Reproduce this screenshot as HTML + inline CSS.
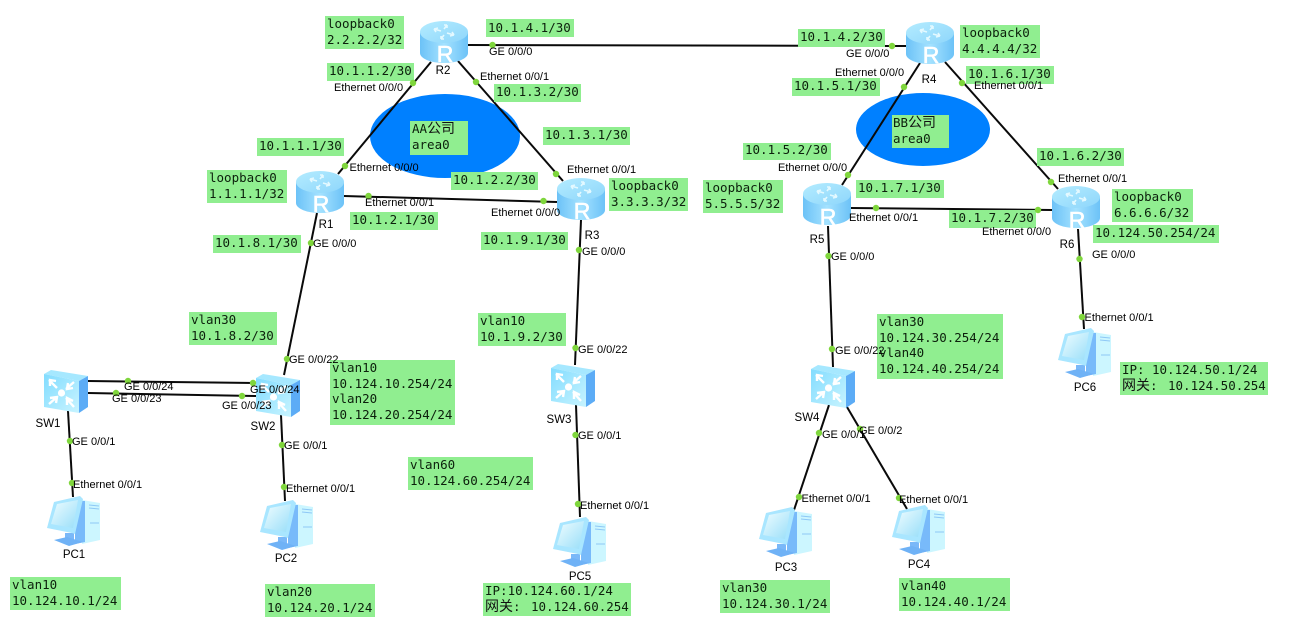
<!DOCTYPE html>
<html><head><meta charset="utf-8"><style>
html,body{margin:0;padding:0;background:#fff}
svg{display:block}
.b{fill:#90ee90}
.m{font:12.5px "DejaVu Sans Mono","Liberation Mono","Noto Sans CJK SC",monospace;fill:#0c200c}
.c{font:14px "Liberation Sans","Noto Sans CJK SC",sans-serif;fill:#111}
.p{font:11px "Liberation Sans",sans-serif;fill:#000}
.n{font:11.5px "Liberation Sans",sans-serif;fill:#000;text-anchor:middle}
.r{font:23px "Liberation Sans",sans-serif;fill:#fff;stroke:#fff;stroke-width:.6;text-anchor:middle}
.l line{stroke:#0a0a0a;stroke-width:2}
.d circle{fill:#7fd63c;r:3.2px}
</style></head><body>
<svg width="1292" height="644" viewBox="0 0 1292 644" xmlns="http://www.w3.org/2000/svg">
<defs>
<linearGradient id="rb" x1="0" x2="1" y1="0" y2="0"><stop offset="0" stop-color="#6cc2f7"/><stop offset=".5" stop-color="#a4e2ff"/><stop offset="1" stop-color="#6cc2f7"/></linearGradient>
<linearGradient id="rt" x1="0" x2="1" y1="0" y2="1"><stop offset="0" stop-color="#b4ecff"/><stop offset="1" stop-color="#8ed6fb"/></linearGradient>
<linearGradient id="sf" x1="0" x2="1" y1="0" y2="1"><stop offset="0" stop-color="#82dcff"/><stop offset="1" stop-color="#c8f4ff"/></linearGradient>
<linearGradient id="sc" x1="0" x2="1" y1="0" y2="1"><stop offset="0" stop-color="#f0fdff"/><stop offset="1" stop-color="#98def9"/></linearGradient>
<symbol id="router" width="48" height="42" viewBox="0 0 48 42" overflow="visible">
<path d="M0,11V32A24,10 0 0 0 48,32V11Z" fill="url(#rb)"/>
<ellipse cx="24" cy="11" rx="24" ry="11" fill="url(#rt)"/>
<g stroke="#e4f9ff" stroke-width="1.6" fill="none">
<path d="M14,8l7,2M14,8l2,3M14,8l4-1"/><path d="M34,14l-7-2M34,14l-2-3M34,14l-4,1"/>
<path d="M27,4l-3,4M27,4l-3,0M27,4l0,3"/><path d="M21,18l3-4M21,18l3,0M21,18l0-3"/>
</g>
</symbol>
<symbol id="switch" width="44" height="43" viewBox="0 0 44 43" overflow="visible">
<polygon points="0,4 7,0 44,6 35,11" fill="#a6e8ff"/>
<polygon points="35,11 44,6 44,37 35,43" fill="#5cacf6"/>
<polygon points="0,4 35,11 35,43 0,37" fill="url(#sf)"/>
<circle cx="17.5" cy="23" r="3.6" fill="#fff"/>
<g stroke="#fff" stroke-width="2.4" fill="none">
<path d="M5,10l8,8M6,16l0-6l6,1"/><path d="M30,12l-8,7M29,18l-6,1l1-6"/>
<path d="M5,34l8-7M6,28l7-1l-1,6"/><path d="M30,37l-8-9M29,31l-6-3l0,7"/>
</g>
</symbol>
<symbol id="pc" width="53" height="50" viewBox="0 0 53 50" overflow="visible">
<polygon points="35,4 53,7 53,44 35,48" fill="#ccf6ff"/>
<polygon points="28,5 38,5 38,46 28,48" fill="#78bafa"/>
<g stroke="#8ec8f6" stroke-width="1"><line x1="42" y1="9" x2="52" y2="10"/><line x1="42" y1="12" x2="52" y2="13"/><line x1="43" y1="27" x2="52" y2="27"/></g>
<polygon points="18,37 27,37 27,44 18,44" fill="#7ab8f8"/>
<polygon points="7,44 20,41 36,46 22,50" fill="#6fb2f6"/>
<polygon points="33,0 36,3 28,38 25,37 0,32 7,6" fill="#a9e6ff"/>
<polygon points="31,4 26,32 4,28 10,8" fill="url(#sc)"/>
</symbol>
</defs>

<ellipse cx="445" cy="136" rx="75" ry="42" fill="#0080ff"/>
<ellipse cx="923" cy="129.500" rx="67" ry="36.500" fill="#0080ff"/>

<g class="l">
<line x1="468" y1="45" x2="906" y2="46"/>
<line x1="431" y1="62" x2="338" y2="174"/>
<line x1="458" y1="61" x2="563" y2="181"/>
<line x1="344" y1="196" x2="557" y2="202"/>
<line x1="317" y1="213" x2="284" y2="375"/>
<line x1="581" y1="220" x2="575" y2="365"/>
<line x1="88" y1="381" x2="256" y2="383"/>
<line x1="88" y1="393" x2="256" y2="396"/>
<line x1="68" y1="411" x2="73" y2="497"/>
<line x1="281" y1="415" x2="285" y2="501"/>
<line x1="576" y1="405" x2="580" y2="517"/>
<line x1="920" y1="63" x2="842" y2="185"/>
<line x1="945" y1="62" x2="1058" y2="189"/>
<line x1="851" y1="208" x2="1052" y2="210"/>
<line x1="828" y1="226" x2="833" y2="367"/>
<line x1="1078" y1="229" x2="1084" y2="329"/>
<line x1="829" y1="405" x2="793" y2="513"/>
<line x1="847" y1="407" x2="907" y2="509"/>
</g>

<use href="#router" x="420" y="21"/><text class="r" x="445" y="62">R</text>
<use href="#router" x="296" y="171"/><text class="r" x="321" y="212">R</text>
<use href="#router" x="557" y="178"/><text class="r" x="582" y="219">R</text>
<use href="#router" x="906" y="22"/><text class="r" x="931" y="63">R</text>
<use href="#router" x="803" y="183"/><text class="r" x="828" y="225">R</text>
<use href="#router" x="1052" y="186"/><text class="r" x="1077" y="228">R</text>
<use href="#switch" x="44" y="370"/>
<use href="#switch" x="256" y="374"/>
<use href="#switch" x="551" y="364"/>
<use href="#switch" x="811" y="365"/>
<use href="#pc" x="47" y="496"/>
<use href="#pc" x="260" y="500"/>
<use href="#pc" x="553" y="517"/>
<use href="#pc" x="759" y="507"/>
<use href="#pc" x="892" y="505"/>
<use href="#pc" x="1058" y="328"/>

<g>
<rect class="b" x="325" y="16" width="79" height="33"/><text class="m" x="327" y="28">loopback0</text><text class="m" x="327" y="44">2.2.2.2/32</text>
<rect class="b" x="486" y="19" width="88" height="18"/><text class="m" x="488" y="32">10.1.4.1/30</text>
<rect class="b" x="327" y="63" width="87" height="18"/><text class="m" x="329" y="75">10.1.1.2/30</text>
<rect class="b" x="494" y="84" width="87" height="18"/><text class="m" x="496" y="96">10.1.3.2/30</text>
<rect class="b" x="410" y="121" width="58" height="34"/><text class="m" x="412" y="133">AA<tspan class="c">公司</tspan></text><text class="m" x="412" y="149">area0</text>
<rect class="b" x="543" y="127" width="87" height="18"/><text class="m" x="545" y="139">10.1.3.1/30</text>
<rect class="b" x="257" y="138" width="87" height="18"/><text class="m" x="259" y="150">10.1.1.1/30</text>
<rect class="b" x="207" y="170" width="80" height="33"/><text class="m" x="209" y="182">loopback0</text><text class="m" x="209" y="198">1.1.1.1/32</text>
<rect class="b" x="451" y="172" width="87" height="18"/><text class="m" x="453" y="184">10.1.2.2/30</text>
<rect class="b" x="350" y="212" width="88" height="18"/><text class="m" x="352" y="224">10.1.2.1/30</text>
<rect class="b" x="213" y="235" width="88" height="18"/><text class="m" x="215" y="247">10.1.8.1/30</text>
<rect class="b" x="481" y="232" width="87" height="18"/><text class="m" x="483" y="244">10.1.9.1/30</text>
<rect class="b" x="609" y="178" width="79" height="33"/><text class="m" x="611" y="190">loopback0</text><text class="m" x="611" y="206">3.3.3.3/32</text>
<rect class="b" x="798" y="29" width="87" height="18"/><text class="m" x="800" y="41">10.1.4.2/30</text>
<rect class="b" x="960" y="25" width="80" height="33"/><text class="m" x="962" y="37">loopback0</text><text class="m" x="962" y="53">4.4.4.4/32</text>
<rect class="b" x="966" y="66" width="88" height="18"/><text class="m" x="968" y="78">10.1.6.1/30</text>
<rect class="b" x="792" y="78" width="88" height="18"/><text class="m" x="794" y="90">10.1.5.1/30</text>
<rect class="b" x="892" y="115" width="57" height="33"/><text class="m" x="893" y="127">BB<tspan class="c">公司</tspan></text><text class="m" x="893" y="143">area0</text>
<rect class="b" x="743" y="143" width="88" height="17"/><text class="m" x="745" y="154">10.1.5.2/30</text>
<rect class="b" x="1037" y="148" width="87" height="18"/><text class="m" x="1039" y="160">10.1.6.2/30</text>
<rect class="b" x="703" y="180" width="80" height="33"/><text class="m" x="705" y="192">loopback0</text><text class="m" x="705" y="208">5.5.5.5/32</text>
<rect class="b" x="856" y="180" width="88" height="18"/><text class="m" x="858" y="192">10.1.7.1/30</text>
<rect class="b" x="1112" y="189" width="81" height="33"/><text class="m" x="1114" y="201">loopback0</text><text class="m" x="1114" y="217">6.6.6.6/32</text>
<rect class="b" x="949" y="210" width="87" height="18"/><text class="m" x="951" y="222">10.1.7.2/30</text>
<rect class="b" x="1093" y="225" width="126" height="18"/><text class="m" x="1095" y="237">10.124.50.254/24</text>
<rect class="b" x="189" y="312" width="88" height="33"/><text class="m" x="191" y="324">vlan30</text><text class="m" x="191" y="340">10.1.8.2/30</text>
<rect class="b" x="478" y="313" width="88" height="33"/><text class="m" x="480" y="325">vlan10</text><text class="m" x="480" y="341">10.1.9.2/30</text>
<rect class="b" x="330" y="360" width="125" height="65"/><text class="m" x="332" y="372">vlan10</text><text class="m" x="332" y="388">10.124.10.254/24</text><text class="m" x="332" y="403">vlan20</text><text class="m" x="332" y="419">10.124.20.254/24</text>
<rect class="b" x="408" y="457" width="125" height="33"/><text class="m" x="410" y="469">vlan60</text><text class="m" x="410" y="485">10.124.60.254/24</text>
<rect class="b" x="10" y="577" width="111" height="33"/><text class="m" x="12" y="589">vlan10</text><text class="m" x="12" y="605">10.124.10.1/24</text>
<rect class="b" x="265" y="584" width="110" height="33"/><text class="m" x="267" y="596">vlan20</text><text class="m" x="267" y="612">10.124.20.1/24</text>
<rect class="b" x="483" y="583" width="148" height="33"/><text class="m" x="485" y="595">IP:10.124.60.1/24</text><text class="c" x="485" y="611">网关</text><text class="m" x="513" y="611">:</text><text class="m" x="531" y="611">10.124.60.254</text>
<rect class="b" x="877" y="314" width="126" height="65"/><text class="m" x="879" y="326">vlan30</text><text class="m" x="879" y="342">10.124.30.254/24</text><text class="m" x="879" y="357">vlan40</text><text class="m" x="879" y="373">10.124.40.254/24</text>
<rect class="b" x="1120" y="362" width="148" height="33"/><text class="m" x="1122" y="374">IP:</text><text class="m" x="1152" y="374">10.124.50.1/24</text><text class="c" x="1122" y="390">网关</text><text class="m" x="1150" y="390">:</text><text class="m" x="1168" y="390">10.124.50.254</text>
<rect class="b" x="720" y="580" width="110" height="33"/><text class="m" x="722" y="592">vlan30</text><text class="m" x="722" y="608">10.124.30.1/24</text>
<rect class="b" x="899" y="578" width="111" height="33"/><text class="m" x="901" y="590">vlan40</text><text class="m" x="901" y="606">10.124.40.1/24</text>
</g>

<g class="d">
<circle cx="492.500" cy="45"/><circle cx="413" cy="83"/><circle cx="476" cy="82"/>
<circle cx="345" cy="166"/><circle cx="368.500" cy="196"/><circle cx="311" cy="243"/>
<circle cx="556" cy="174"/><circle cx="543.500" cy="201"/><circle cx="579" cy="250"/>
<circle cx="892" cy="46"/><circle cx="904" cy="87"/><circle cx="962" cy="83"/>
<circle cx="848" cy="175"/><circle cx="876" cy="208"/><circle cx="828.500" cy="256"/>
<circle cx="1051" cy="182"/><circle cx="1038" cy="210"/><circle cx="1079.500" cy="259"/>
<circle cx="287" cy="359"/><circle cx="253" cy="383"/><circle cx="242" cy="396"/>
<circle cx="128" cy="381"/><circle cx="116" cy="393"/><circle cx="70" cy="441"/>
<circle cx="282" cy="445"/><circle cx="72" cy="483"/><circle cx="284" cy="487"/>
<circle cx="575.500" cy="348"/><circle cx="575.500" cy="435"/><circle cx="578" cy="504"/>
<circle cx="832" cy="349"/><circle cx="819" cy="433"/><circle cx="860" cy="429"/>
<circle cx="799" cy="497"/><circle cx="899" cy="498"/><circle cx="1082" cy="317"/>
</g>

<g>
<text class="p" x="489" y="55">GE 0/0/0</text>
<text class="p" x="334" y="91">Ethernet 0/0/0</text>
<text class="p" x="480" y="80">Ethernet 0/0/1</text>
<text class="p" x="349.500" y="171">Ethernet 0/0/0</text>
<text class="p" x="365" y="206">Ethernet 0/0/1</text>
<text class="p" x="313" y="247">GE 0/0/0</text>
<text class="p" x="567" y="173">Ethernet 0/0/1</text>
<text class="p" x="491" y="216">Ethernet 0/0/0</text>
<text class="p" x="582" y="255">GE 0/0/0</text>
<text class="p" x="846" y="57">GE 0/0/0</text>
<text class="p" x="835" y="76">Ethernet 0/0/0</text>
<text class="p" x="974" y="89">Ethernet 0/0/1</text>
<text class="p" x="778" y="171">Ethernet 0/0/0</text>
<text class="p" x="849" y="221">Ethernet 0/0/1</text>
<text class="p" x="831" y="260">GE 0/0/0</text>
<text class="p" x="1058" y="182">Ethernet 0/0/1</text>
<text class="p" x="982" y="235">Ethernet 0/0/0</text>
<text class="p" x="1092" y="258">GE 0/0/0</text>
<text class="p" x="289" y="363">GE 0/0/22</text>
<text class="p" x="250" y="393">GE 0/0/24</text>
<text class="p" x="222" y="409">GE 0/0/23</text>
<text class="p" x="124" y="390">GE 0/0/24</text>
<text class="p" x="112" y="402">GE 0/0/23</text>
<text class="p" x="72" y="445">GE 0/0/1</text>
<text class="p" x="284" y="449">GE 0/0/1</text>
<text class="p" x="73" y="488">Ethernet 0/0/1</text>
<text class="p" x="286" y="492">Ethernet 0/0/1</text>
<text class="p" x="578" y="353">GE 0/0/22</text>
<text class="p" x="578" y="439">GE 0/0/1</text>
<text class="p" x="580" y="509">Ethernet 0/0/1</text>
<text class="p" x="835" y="354">GE 0/0/22</text>
<text class="p" x="822" y="438">GE 0/0/1</text>
<text class="p" x="859" y="434">GE 0/0/2</text>
<text class="p" x="801.500" y="502">Ethernet 0/0/1</text>
<text class="p" x="899" y="503">Ethernet 0/0/1</text>
<text class="p" x="1084.500" y="321">Ethernet 0/0/1</text>
</g>

<g>
<text class="n" x="326" y="228">R1</text>
<text class="n" x="443" y="74">R2</text>
<text class="n" x="592" y="239">R3</text>
<text class="n" x="929" y="83">R4</text>
<text class="n" x="817" y="243">R5</text>
<text class="n" x="1067" y="248">R6</text>
<text class="n" x="48" y="427">SW1</text>
<text class="n" x="263" y="430">SW2</text>
<text class="n" x="559" y="423">SW3</text>
<text class="n" x="807" y="421">SW4</text>
<text class="n" x="74" y="558">PC1</text>
<text class="n" x="286" y="562">PC2</text>
<text class="n" x="580" y="580">PC5</text>
<text class="n" x="786" y="571">PC3</text>
<text class="n" x="919" y="568">PC4</text>
<text class="n" x="1085" y="391">PC6</text>
</g>
</svg>
</body></html>
